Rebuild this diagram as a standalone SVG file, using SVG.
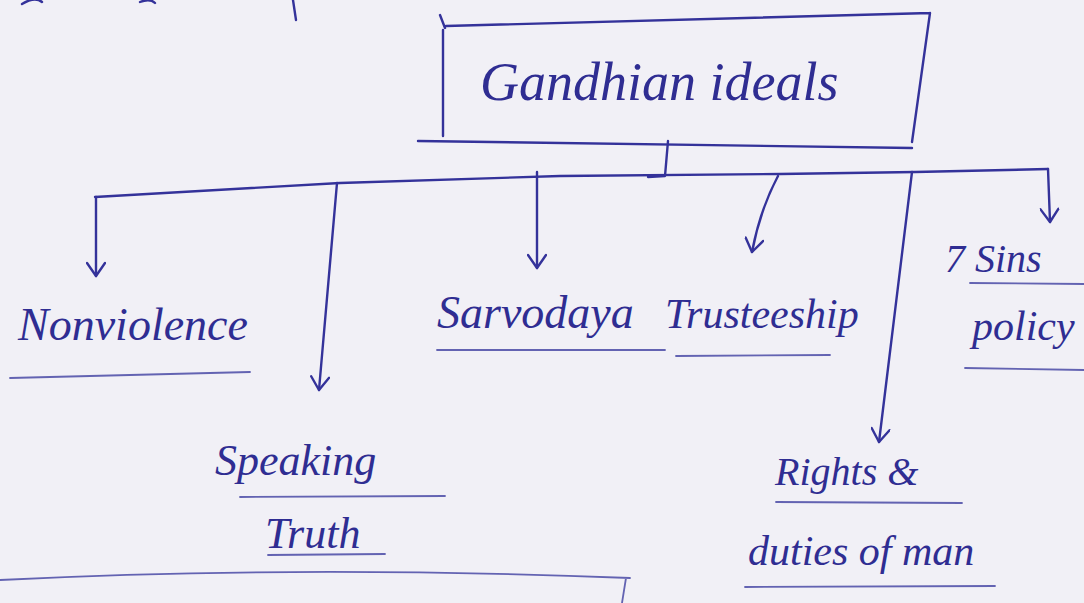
<svg xmlns="http://www.w3.org/2000/svg" width="1084" height="603" viewBox="0 0 1084 603">
<defs>
<style>
.ink{fill:none;stroke:#34329a;stroke-width:2.4;stroke-linecap:round;stroke-linejoin:round}
.ul{fill:none;stroke:#4a4aa6;stroke-width:1.8;stroke-linecap:round;opacity:.85}
.t{font-family:"Liberation Serif",serif;font-style:italic;fill:#2f2d92}
</style>
<marker id="ah" viewBox="0 0 20 20" refX="18" refY="10" markerWidth="20" markerHeight="20" markerUnits="userSpaceOnUse" orient="auto">
<path d="M5 1 L18 10 L5 19" fill="none" stroke="#34329a" stroke-width="2.4" stroke-linecap="round" stroke-linejoin="round"/>
</marker>
</defs>
<rect width="1084" height="603" fill="#f1f0f6"/>
<g id="top-fragment">
<path class="ink" d="M293 0 L296 20"/>
<path class="ink" d="M22 4 Q35 -4 42 2 M140 2 Q150 -2 155 3"/>
</g>
<g id="gandhian">
<path class="ink" d="M446 26 L930 13 M443 30 L443 136 M930 13 L912 142 M418 141 L912 148 M440 15 L445 28"/>
<text class="t" x="480" y="100" font-size="54">Gandhian ideals</text>
</g>
<g id="connectors">
<path class="ink" d="M668 141 L665 176 L648 177"/>
<path class="ink" d="M95 197 L340 183 L560 176 L780 174 L915 172 L1048 169"/>
<path class="ink" d="M96 197 L96 276" marker-end="url(#ah)"/>
<path class="ink" d="M337 183 L319 390" marker-end="url(#ah)"/>
<path class="ink" d="M537 172 L537 268" marker-end="url(#ah)"/>
<path class="ink" d="M778 176 Q760 210 752 252" marker-end="url(#ah)"/>
<path class="ink" d="M912 172 L879 442" marker-end="url(#ah)"/>
<path class="ink" d="M1048 169 L1050 222" marker-end="url(#ah)"/>
</g>
<g id="nonviolence">
<text class="t" x="18" y="340" font-size="46">Nonviolence</text>
<path class="ul" d="M10 378 L250 372"/>
</g>
<g id="speaking-truth">
<text class="t" x="215" y="475" font-size="44">Speaking</text>
<text class="t" x="265" y="548" font-size="44">Truth</text>
<path class="ul" d="M240 497 L445 496 M268 555 L385 554"/>
</g>
<g id="sarvodaya">
<text class="t" x="437" y="328" font-size="46">Sarvodaya</text>
<path class="ul" d="M437 350 L665 350"/>
</g>
<g id="trusteeship">
<text class="t" x="665" y="328" font-size="42">Trusteeship</text>
<path class="ul" d="M676 356 L830 355"/>
</g>
<g id="rights">
<text class="t" x="775" y="485" font-size="40">Rights &amp;</text>
<text class="t" x="748" y="565" font-size="42">duties of man</text>
<path class="ul" d="M776 502 L962 503 M745 587 L995 586"/>
</g>
<g id="sins">
<text class="t" x="945" y="272" font-size="40">7 Sins</text>
<text class="t" x="972" y="340" font-size="42">policy</text>
<path class="ul" d="M970 283 L1084 284 M965 368 L1084 370"/>
</g>
<g id="bottom-fragment">
<path class="ul" d="M0 580 Q300 565 630 578 M626 578 L622 603"/>
</g>
</svg>
